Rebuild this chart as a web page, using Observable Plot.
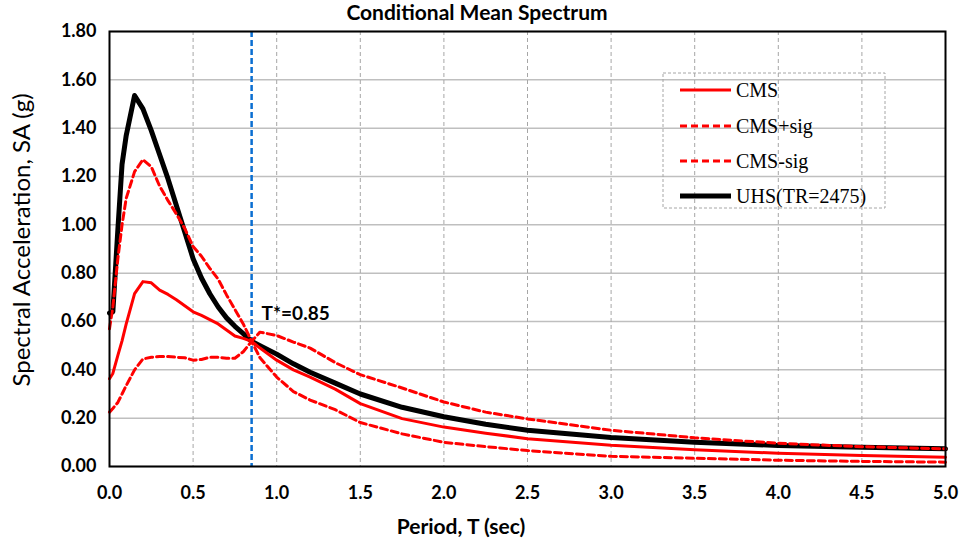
<!DOCTYPE html>
<html><head><meta charset="utf-8">
<script src="https://cdn.jsdelivr.net/npm/d3@7"></script>
<script src="https://cdn.jsdelivr.net/npm/@observablehq/plot@0.6"></script>
<style>body{margin:0;background:#fff} #chart{width:964px;height:548px}</style>
</head><body><div id="chart"></div>
<script>
// ---- data ----
const periods    = [0, 0.02, 0.05, 0.075, 0.1, 0.15, 0.2, 0.25, 0.3, 0.35, 0.4, 0.45, 0.5, 0.55, 0.6, 0.65, 0.7, 0.75, 0.8, 0.85, 0.9, 1.0, 1.1, 1.2, 1.35, 1.5, 1.75, 2.0, 2.25, 2.5, 3.0, 3.5, 4.0, 4.5, 5.0];
const saUHS      = [0.635, 0.64, 0.98, 1.25, 1.37, 1.535, 1.48, 1.39, 1.29, 1.19, 1.08, 0.97, 0.86, 0.78, 0.715, 0.66, 0.615, 0.58, 0.55, 0.518, 0.50, 0.465, 0.425, 0.39, 0.345, 0.30, 0.245, 0.206, 0.175, 0.15, 0.12, 0.10, 0.087, 0.08, 0.073];
const saCMS      = [0.363, 0.385, 0.46, 0.52, 0.59, 0.715, 0.765, 0.76, 0.73, 0.712, 0.69, 0.665, 0.64, 0.625, 0.608, 0.59, 0.565, 0.54, 0.53, 0.518, 0.49, 0.44, 0.40, 0.37, 0.32, 0.26, 0.198, 0.163, 0.138, 0.115, 0.088, 0.069, 0.055, 0.046, 0.038];
const saCMSplus  = [0.57, 0.66, 0.86, 1.0, 1.11, 1.22, 1.27, 1.24, 1.16, 1.10, 1.045, 0.985, 0.91, 0.87, 0.82, 0.775, 0.71, 0.65, 0.59, 0.518, 0.556, 0.542, 0.515, 0.49, 0.43, 0.38, 0.325, 0.267, 0.225, 0.197, 0.15, 0.119, 0.096, 0.082, 0.073];
const saCMSminus = [0.225, 0.24, 0.265, 0.30, 0.335, 0.40, 0.445, 0.452, 0.455, 0.455, 0.452, 0.45, 0.44, 0.443, 0.452, 0.452, 0.448, 0.448, 0.475, 0.518, 0.45, 0.37, 0.31, 0.275, 0.235, 0.182, 0.135, 0.10, 0.082, 0.066, 0.042, 0.034, 0.026, 0.021, 0.018];
const tStar = 0.85;
const tStarLabelSA = 0.63;
const seriesNames = ["CMS", "CMS+sig", "CMS-sig", "UHS(TR=2475)"];
const xTicks = [0, 0.5, 1.0, 1.5, 2.0, 2.5, 3.0, 3.5, 4.0, 4.5, 5.0];
const yTicks = [0, 0.2, 0.4, 0.6, 0.8, 1.0, 1.2, 1.4, 1.6, 1.8];
const titleText = "Conditional Mean Spectrum";
const xLabel = "Period, T (sec)";
const yLabel = "Spectral Acceleration, SA (g)";

const rows = vals => periods.map((t, i) => ({t, sa: vals[i]}));
const RED = "#ff0000";
const DASH = "7,4";

const chart = Plot.plot({
  width: 964, height: 548,
  marginLeft: 109, marginRight: 19, marginTop: 31, marginBottom: 82,
  style: {fontFamily: "Lato, sans-serif", background: "white", overflow: "visible"},
  x: {domain: [0, 5]},
  y: {domain: [0, 1.8]},
  marks: [
    Plot.gridY(yTicks, {stroke: "#bfbfbf", strokeOpacity: 1, strokeWidth: 1.5}),
    Plot.gridX(xTicks.slice(1, -1), {stroke: "#a6a6a6", strokeOpacity: 1, strokeWidth: 1, strokeDasharray: "4,3"}),
    Plot.ruleX([tStar], {stroke: "#0a6ed1", strokeWidth: 2.5, strokeDasharray: "6,3"}),
    Plot.line(rows(saUHS), {x: "t", y: "sa", stroke: "black", strokeWidth: 5, strokeLinejoin: "round"}),
    Plot.line(rows(saCMS), {x: "t", y: "sa", stroke: RED, strokeWidth: 3, strokeLinejoin: "round"}),
    Plot.line(rows(saCMSplus), {x: "t", y: "sa", stroke: RED, strokeWidth: 3, strokeDasharray: DASH}),
    Plot.line(rows(saCMSminus), {x: "t", y: "sa", stroke: RED, strokeWidth: 3, strokeDasharray: DASH}),
    Plot.text([{t: tStar, sa: tStarLabelSA}], {x: "t", y: "sa", text: d => "T*=" + d.t.toFixed(2), dx: 10, textAnchor: "start", fontWeight: "bold", fontSize: 19, fill: "black"}),
    Plot.frame({stroke: "black", strokeWidth: 2}),
    Plot.axisY(yTicks, {tickFormat: d3.format(".2f"), tickSize: 0, tickPadding: 13, fontSize: 18, fontWeight: "bold", label: null}),
    Plot.axisX(xTicks, {tickFormat: d3.format(".1f"), tickSize: 0, tickPadding: 20, fontSize: 18, fontWeight: "bold", label: null})
  ]
});
document.getElementById("chart").appendChild(chart);

const svg = d3.select(chart);
// title and axis titles
svg.append("text").attr("x", 477).attr("y", 20).attr("text-anchor", "middle")
  .attr("font-family", "Lato, sans-serif").attr("font-weight", "bold").attr("font-size", 21).text(titleText);
svg.append("text").attr("x", 461).attr("y", 534).attr("text-anchor", "middle")
  .attr("font-family", "Lato, sans-serif").attr("font-weight", "bold").attr("font-size", 21).text(xLabel);
svg.append("text").attr("transform", "translate(30,240) rotate(-90)").attr("text-anchor", "middle")
  .attr("font-family", "Lato, sans-serif").attr("font-size", 24).text(yLabel);

// legend
const lg = svg.append("g").attr("font-family", "'Liberation Serif', 'Times New Roman', serif").attr("font-size", 20);
lg.append("rect").attr("x", 663).attr("y", 73).attr("width", 222).attr("height", 135)
  .attr("fill", "none").attr("stroke", "#a6a6a6").attr("stroke-dasharray", "3,2");
const legendStyles = [
  {stroke: RED, w: 3, dash: null},
  {stroke: RED, w: 3, dash: DASH},
  {stroke: RED, w: 3, dash: DASH},
  {stroke: "black", w: 5, dash: null}
];
const rowY = [90, 126, 161, 196];
seriesNames.forEach((name, i) => {
  const s = legendStyles[i];
  const l = lg.append("line").attr("x1", 680).attr("x2", 731).attr("y1", rowY[i]).attr("y2", rowY[i])
    .attr("stroke", s.stroke).attr("stroke-width", s.w);
  if (s.dash) l.attr("stroke-dasharray", s.dash);
  lg.append("text").attr("x", 736).attr("y", rowY[i]).attr("dy", "0.35em").attr("text-anchor", "start").text(name);
});
</script>
</body></html>
